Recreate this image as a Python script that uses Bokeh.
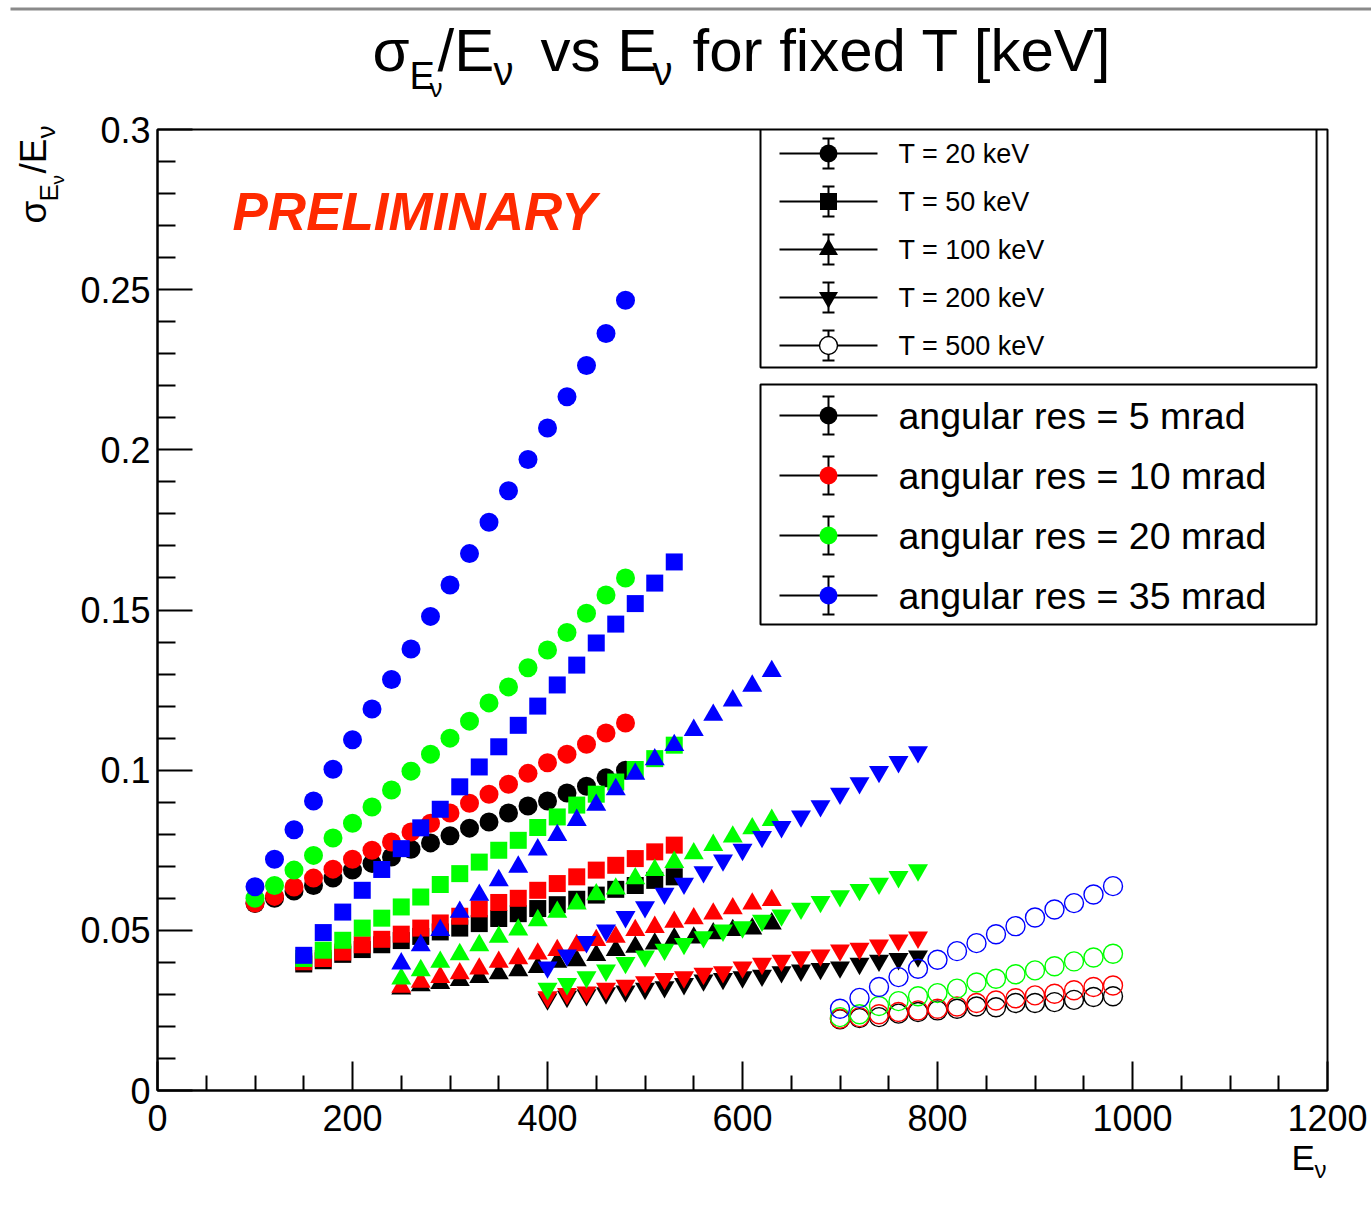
import math
from bokeh.plotting import figure
from bokeh.models import (Range1d, FixedTicker, CustomJSTickFormatter, Label, BoxAnnotation)
from bokeh.core.properties import value
from bokeh.embed import file_html
from bokeh.resources import INLINE

# ---------------- data ----------------
res_labels = ["angular res = 5 mrad", "angular res = 10 mrad",
              "angular res = 20 mrad", "angular res = 35 mrad"]
res_colors = ["#000000", "#ff0000", "#00ff00", "#0000ff"]
t_labels = ["T = 20 keV", "T = 50 keV", "T = 100 keV", "T = 200 keV", "T = 500 keV"]

e_t20 = [100, 120, 140, 160, 180, 200, 220, 240, 260, 280,
         300, 320, 340, 360, 380, 400, 420, 440, 460, 480]
t20_5mrad = [0.0584, 0.0600, 0.0623, 0.0640, 0.0663, 0.0688, 0.0709, 0.0729, 0.0753, 0.0773,
             0.0795, 0.0819, 0.0838, 0.0866, 0.0888, 0.0904, 0.0929, 0.0950, 0.0976, 0.1000]
t20_10mrad = [0.0585, 0.0606, 0.0635, 0.0663, 0.0691, 0.0722, 0.0750, 0.0776, 0.0807, 0.0834,
              0.0866, 0.0897, 0.0925, 0.0956, 0.0990, 0.1023, 0.1050, 0.1081, 0.1116, 0.1147]
t20_20mrad = [0.0600, 0.0640, 0.0688, 0.0734, 0.0788, 0.0834, 0.0885, 0.0938, 0.0997, 0.1050,
              0.1100, 0.1153, 0.1210, 0.1260, 0.1320, 0.1375, 0.1430, 0.1490, 0.1547, 0.1600]
t20_35mrad = [0.0636, 0.0722, 0.0814, 0.0904, 0.1003, 0.1095, 0.1191, 0.1283, 0.1378, 0.1480,
              0.1578, 0.1676, 0.1774, 0.1872, 0.1970, 0.2068, 0.2166, 0.2263, 0.2363, 0.2467]

e_t50 = [150, 170, 190, 210, 230, 250, 270, 290, 310, 330,
         350, 370, 390, 410, 430, 450, 470, 490, 510, 530]
t50_5mrad = [0.0395, 0.0405, 0.0425, 0.0440, 0.0455, 0.0468, 0.0481, 0.0495, 0.0507, 0.0521,
             0.0537, 0.0552, 0.0568, 0.0580, 0.0597, 0.0610, 0.0628, 0.0640, 0.0656, 0.0667]
t50_10mrad = [0.0402, 0.0412, 0.0432, 0.0455, 0.0472, 0.0488, 0.0507, 0.0523, 0.0544, 0.0567,
              0.0587, 0.0600, 0.0625, 0.0646, 0.0667, 0.0688, 0.0703, 0.0724, 0.0745, 0.0766]
t50_20mrad = [0.0412, 0.0438, 0.0469, 0.0507, 0.0538, 0.0573, 0.0604, 0.0643, 0.0677, 0.0713,
              0.0750, 0.0781, 0.0821, 0.0854, 0.0891, 0.0925, 0.0963, 0.1002, 0.1036, 0.1078]
t50_35mrad = [0.0422, 0.0493, 0.0557, 0.0625, 0.0690, 0.0755, 0.0820, 0.0878, 0.0948, 0.1010,
              0.1073, 0.1140, 0.1200, 0.1266, 0.1328, 0.1397, 0.1456, 0.1520, 0.1584, 0.1650]

e_t100 = [250, 270, 290, 310, 330, 350, 370, 390, 410, 430,
          450, 470, 490, 510, 530, 550, 570, 590, 610, 630]
t100_5mrad = [0.0318, 0.0328, 0.0335, 0.0344, 0.0354, 0.0365, 0.0375, 0.0385, 0.0401, 0.0406,
              0.0422, 0.0438, 0.0448, 0.0458, 0.0474, 0.0477, 0.0490, 0.0500, 0.0505, 0.0521]
t100_10mrad = [0.0323, 0.0339, 0.0354, 0.0365, 0.0380, 0.0401, 0.0412, 0.0427, 0.0438, 0.0453,
               0.0469, 0.0479, 0.0500, 0.0510, 0.0526, 0.0537, 0.0552, 0.0568, 0.0583, 0.0594]
t100_20mrad = [0.0349, 0.0375, 0.0401, 0.0425, 0.0453, 0.0479, 0.0502, 0.0531, 0.0557, 0.0583,
               0.0612, 0.0630, 0.0662, 0.0688, 0.0713, 0.0740, 0.0766, 0.0792, 0.0818, 0.0844]
t100_35mrad = [0.0396, 0.0453, 0.0500, 0.0557, 0.0610, 0.0656, 0.0698, 0.0752, 0.0797, 0.0844,
               0.0891, 0.0940, 0.0988, 0.1033, 0.1078, 0.1125, 0.1172, 0.1217, 0.1263, 0.1309]

e_t200 = [400, 420, 440, 460, 480, 500, 520, 540, 560, 580,
          600, 620, 640, 660, 680, 700, 720, 740, 760, 780]
t200_5mrad = [0.0285, 0.0293, 0.0298, 0.0304, 0.0310, 0.0318, 0.0323, 0.0333, 0.0344, 0.0349,
              0.0354, 0.0359, 0.0370, 0.0375, 0.0380, 0.0385, 0.0396, 0.0406, 0.0411, 0.0419]
t200_10mrad = [0.0292, 0.0302, 0.0307, 0.0318, 0.0328, 0.0339, 0.0349, 0.0354, 0.0365, 0.0370,
               0.0385, 0.0396, 0.0406, 0.0417, 0.0422, 0.0438, 0.0443, 0.0453, 0.0469, 0.0478]
t200_20mrad = [0.0318, 0.0333, 0.0354, 0.0375, 0.0399, 0.0419, 0.0440, 0.0458, 0.0479, 0.0500,
               0.0510, 0.0531, 0.0547, 0.0568, 0.0589, 0.0607, 0.0627, 0.0646, 0.0667, 0.0688]
t200_35mrad = [0.0385, 0.0422, 0.0464, 0.0500, 0.0542, 0.0573, 0.0615, 0.0646, 0.0682, 0.0719,
               0.0752, 0.0792, 0.0823, 0.0856, 0.0888, 0.0927, 0.0960, 0.0995, 0.1026, 0.1057]

e_t500 = [700, 720, 740, 760, 780, 800, 820, 840, 860, 880, 900, 920, 940, 960, 980]
t500_5mrad = [0.0222, 0.0226, 0.0229, 0.0240, 0.0245, 0.0250, 0.0255, 0.0262, 0.0260, 0.0273,
              0.0273, 0.0276, 0.0283, 0.0292, 0.0294]
t500_10mrad = [0.0224, 0.0229, 0.0238, 0.0245, 0.0250, 0.0255, 0.0262, 0.0273, 0.0281, 0.0288,
               0.0297, 0.0302, 0.0313, 0.0323, 0.0328]
t500_20mrad = [0.0229, 0.0238, 0.0264, 0.0279, 0.0294, 0.0304, 0.0318, 0.0337, 0.0349, 0.0363,
               0.0375, 0.0388, 0.0403, 0.0415, 0.0427]
t500_35mrad = [0.0255, 0.0289, 0.0323, 0.0354, 0.0380, 0.0408, 0.0435, 0.0460, 0.0488, 0.0513,
               0.0540, 0.0565, 0.0585, 0.0612, 0.0638]

x_ticks = [0, 200, 400, 600, 800, 1000, 1200]
y_ticks = [0.0, 0.05, 0.1, 0.15, 0.2, 0.25, 0.3]

groups = [
    (e_t20, [t20_5mrad, t20_10mrad, t20_20mrad, t20_35mrad], "circle", True, 19),
    (e_t50, [t50_5mrad, t50_10mrad, t50_20mrad, t50_35mrad], "square", True, 17),
    (e_t100, [t100_5mrad, t100_10mrad, t100_20mrad, t100_35mrad], "triangle", True, 20),
    (e_t200, [t200_5mrad, t200_10mrad, t200_20mrad, t200_35mrad], "inverted_triangle", True, 20),
    (e_t500, [t500_5mrad, t500_10mrad, t500_20mrad, t500_35mrad], "circle", False, 19),
]

# ---------------- layout ----------------
W, H = 1371, 1214
FL, FR, FT, FB = 157, 1327, 129, 1090      # frame edges in pixels
XMAX, YMAX = 1200.0, 0.3
FONT = "Liberation Sans"
MID = 0.3465                              # (ascent - descent) / 2 in em


def X(px):
    return (px - FL) * XMAX / (FR - FL)


def Y(py):
    return (FB - py) * YMAX / (FB - FT)


p = figure(width=W, height=H, x_range=Range1d(0, XMAX), y_range=Range1d(0, YMAX),
           output_backend="svg", toolbar_location=None,
           min_border_left=FL, min_border_right=W - FR,
           min_border_top=FT, min_border_bottom=H - FB)
p.title.visible = False
p.background_fill_color = "white"
p.border_fill_color = "white"
p.outline_line_color = "black"
p.outline_line_width = 2
p.xgrid.grid_line_color = None
p.ygrid.grid_line_color = None

x_minor = [v for v in range(0, 1201, 50) if v not in x_ticks]
y_minor = [round(0.01 * i, 2) for i in range(31) if i % 5]
p.xaxis.ticker = FixedTicker(ticks=x_ticks, minor_ticks=x_minor)
p.yaxis.ticker = FixedTicker(ticks=y_ticks, minor_ticks=y_minor)
p.yaxis.formatter = CustomJSTickFormatter(code="return String(Number(tick.toFixed(3)));")
for ax in (p.xaxis[0], p.yaxis[0]):
    ax.axis_line_width = 2
    ax.major_tick_line_width = 2
    ax.minor_tick_line_width = 2
    ax.major_tick_out = 0
    ax.minor_tick_out = 0
    ax.major_label_text_font = FONT
    ax.major_label_text_font_size = "36px"
    ax.major_label_text_color = "black"
p.xaxis.major_tick_in = 29
p.xaxis.minor_tick_in = 15
p.yaxis.major_tick_in = 35
p.yaxis.minor_tick_in = 18
p.xaxis.major_label_standoff = 14
p.yaxis.major_label_standoff = 7

# ---------------- data markers ----------------
for e_vals, series, marker, filled, size in groups:
    for vals, color in zip(series, res_colors):
        if filled:
            p.scatter(e_vals, vals, marker=marker, size=size,
                      fill_color=color, line_color=None)
        else:
            p.scatter(e_vals, vals, marker=marker, size=size,
                      fill_color=None, line_color=color, line_width=1.4)

# ---------------- legends (drawn by hand, ROOT style) ----------------
legend_boxes = [(760, 127, 1316, 367), (760, 384, 1316, 624)]
for l, t, r, b in legend_boxes:
    p.add_layout(BoxAnnotation(left=X(l), right=X(r), top=Y(t), bottom=Y(b),
                               fill_alpha=0, line_color="black", line_alpha=1,
                               line_width=2))


def legend_entry(py, half_bar, marker, size, fill, line, text, fsize, lw=0):
    xs = X(828)
    p.segment(x0=[X(779)], y0=[Y(py)], x1=[X(877)], y1=[Y(py)], line_color="black", line_width=2)
    p.segment(x0=[xs], y0=[Y(py - half_bar)], x1=[xs], y1=[Y(py + half_bar)],
              line_color="black", line_width=2)
    for cy in (py - half_bar, py + half_bar):
        p.segment(x0=[X(822)], y0=[Y(cy)], x1=[X(834)], y1=[Y(cy)],
                  line_color="black", line_width=2)
    p.scatter([xs], [Y(py)], marker=marker, size=size, fill_color=fill,
              line_color=line, line_width=lw)
    p.add_layout(Label(x=X(898), y=Y(py), text=text, text_font=FONT,
                       text_font_size=fsize, text_baseline="middle",
                       text_align="left", text_color="black"))


t_markers = [("circle", 18, "black", None, 0), ("square", 17, "black", None, 0),
             ("triangle", 19, "black", None, 0), ("inverted_triangle", 19, "black", None, 0),
             ("circle", 18, "white", "black", 1.4)]
for i, (lab, (mk, sz, fc, lc, lw)) in enumerate(zip(t_labels, t_markers)):
    legend_entry(153 + 48 * i, 15, mk, sz, fc, lc, lab, "27px", lw)
for i, (lab, col) in enumerate(zip(res_labels, res_colors)):
    legend_entry(415 + 60 * i, 19, "circle", 18, col, None, lab, "37.5px")


# ---------------- free texts (text glyphs on the overlay level, not clipped) ----------------
def txt(px, base_py, s, fs, rotated=False, style="normal", color="black"):
    """Place text whose alphabetic baseline starts at pixel (px, base_py)."""
    if rotated:
        cx, cy, ang = px - MID * fs, base_py, math.pi / 2
    else:
        cx, cy, ang = px, base_py - MID * fs, 0.0
    p.text(x=[X(cx)], y=[Y(cy)], text=[s], angle=ang, level="overlay",
           text_font=value(FONT), text_font_size=value(f"{fs}px"),
           text_font_style=style, text_color=color,
           text_align="left", text_baseline="middle")


# title  sigma_{E_nu}/E_nu vs E_nu for fixed T [keV]
TF = 60
txt(372, 71, "σ", TF)
txt(409, 89, "E", 38)
txt(429, 97, "ν", 26)
txt(437, 71, "/E", TF)
txt(493, 84, "ν", 40)
txt(540, 71, "vs E", TF)
txt(652, 84, "ν", 40)
txt(692, 71, "for fixed T [keV]", TF)

# PRELIMINARY
txt(232, 229, "PRELIMINARY", 53, style="bold italic", color="#ff2a00")

# y-axis title (rotated, reads bottom to top)
txt(46, 223, "σ", 37, rotated=True)
txt(58, 201, "E", 26, rotated=True)
txt(64, 184, "ν", 19, rotated=True)
txt(46, 173, "/E", 37, rotated=True)
txt(55, 138, "ν", 26, rotated=True)

# x-axis title
txt(1291, 1169, "E", 35)
txt(1314, 1177, "ν", 24)

# thin grey rule at the top of the page
p.patch(x=[X(10), X(W), X(W), X(10)], y=[Y(7), Y(7), Y(10), Y(10)],
        fill_color="#8a8a8a", line_color=None, level="overlay")

open("out.html", "w").write(file_html(p, INLINE))
